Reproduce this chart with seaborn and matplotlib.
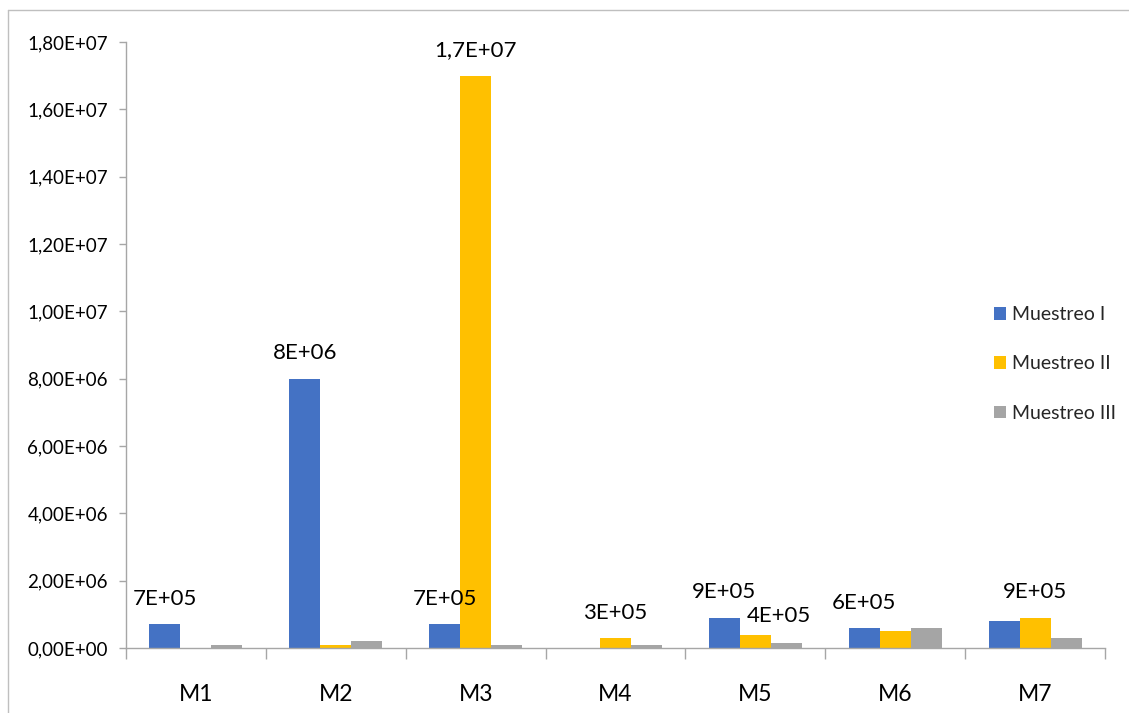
import matplotlib
matplotlib.use("Agg")
import matplotlib.pyplot as plt
from matplotlib.lines import Line2D
from matplotlib.ticker import FuncFormatter, FixedLocator
import seaborn as sns
import pandas as pd
import numpy as np

# Sampling sites and counts per campaign
sites = ["M1", "M2", "M3", "M4", "M5", "M6", "M7"]
series = ["Muestreo I", "Muestreo II", "Muestreo III"]
muestreo_1 = [7e5, 8e6, 7e5, 0, 9e5, 6e5, 8e5]
muestreo_2 = [0, 1e5, 1.7e7, 3e5, 4e5, 5e5, 9e5]
muestreo_3 = [1e5, 2e5, 1e5, 1e5, 1.5e5, 6e5, 3e5]

# Bars that carry a value label: (series, site)
labelled = [
    ("Muestreo I", "M1"), ("Muestreo I", "M2"), ("Muestreo I", "M3"),
    ("Muestreo II", "M3"), ("Muestreo II", "M4"), ("Muestreo I", "M5"),
    ("Muestreo II", "M5"), ("Muestreo I", "M6"), ("Muestreo II", "M7"),
]
# label offset (points) from the bar top, where it differs from the default
label_shift = {("Muestreo II", "M5"): (17, 6)}

colors = ["#4472C4", "#FFC000", "#A5A5A5"]

df = pd.DataFrame({
    "site": sites * 3,
    "serie": np.repeat(series, len(sites)),
    "valor": muestreo_1 + muestreo_2 + muestreo_3,
})

sns.set_theme(style="white")
plt.rcParams["font.family"] = ["Lato", "DejaVu Sans"]

fig = plt.figure(figsize=(11.29, 7.13), dpi=100)
ax = fig.add_axes([126 / 1129, 1 - 648 / 713, (1105 - 126) / 1129, (648 - 42) / 713])

sns.barplot(data=df, x="site", y="valor", hue="serie", order=sites,
            hue_order=series, palette=colors, width=0.665, gap=0,
            saturation=1, ax=ax, legend=False, errorbar=None, linewidth=0)

ax.set_ylim(0, 1.8e7)
ax.set_xlim(-0.5, len(sites) - 0.5)
ax.set_yticks(np.arange(0, 1.8e7 + 1, 2e6))


def sci_comma(v, _pos=None):
    return f"{v:.2E}".replace(".", ",")


ax.yaxis.set_major_formatter(FuncFormatter(sci_comma))
ax.tick_params(axis="y", labelsize=13.5, length=5, width=1, color="#A6A6A6",
               direction="out", pad=8, left=True, labelcolor="#000000")

# category boundaries as ticks, names centred between them
ax.xaxis.set_major_locator(FixedLocator(np.arange(-0.5, len(sites), 1.0)))
ax.xaxis.set_minor_locator(FixedLocator(np.arange(len(sites))))
ax.set_xticklabels([], minor=False)
ax.set_xticklabels(sites, minor=True)
ax.tick_params(axis="x", which="major", length=8, width=1, color="#A6A6A6",
               direction="out", bottom=True)
ax.tick_params(axis="x", which="minor", length=0, labelsize=16.5, pad=26,
               labelcolor="#000000")

for side in ["top", "right"]:
    ax.spines[side].set_visible(False)
for side in ["left", "bottom"]:
    ax.spines[side].set_color("#A6A6A6")
    ax.spines[side].set_linewidth(1)
ax.set_xlabel("")
ax.set_ylabel("")


def short_label(v):
    exp = int(np.floor(np.log10(v)))
    mant = v / 10 ** exp
    txt = f"{v:.0E}" if abs(mant - round(mant)) < 1e-9 else f"{v:.1E}"
    return txt.replace(".", ",")


for (serie, site) in labelled:
    container = ax.containers[series.index(serie)]
    bar = container.patches[sites.index(site)]
    v = bar.get_height()
    ax.annotate(short_label(v), (bar.get_x() + bar.get_width() / 2, v),
                xytext=label_shift.get((serie, site), (0, 11)),
                textcoords="offset points", ha="center", va="bottom",
                fontsize=16, color="#000000")

handles = [plt.Rectangle((0, 0), 1, 1, facecolor=c, edgecolor="none") for c in colors]
fig.legend(handles, series, loc="center left",
           bbox_to_anchor=(994 / 1129, 1 - 364 / 713), frameon=False,
           fontsize=14, handlelength=0.6, handleheight=0.6,
           handletextpad=0.3, labelspacing=1.65, borderpad=0, borderaxespad=0)

# chart-area frame
fig.add_artist(Line2D([8 / 1129, 8 / 1129], [0, 1 - 10 / 713],
                      transform=fig.transFigure, color="#BFBFBF", lw=1))
fig.add_artist(Line2D([8 / 1129, 1], [1 - 10 / 713, 1 - 10 / 713],
                      transform=fig.transFigure, color="#BFBFBF", lw=1))

fig.savefig("out.png", dpi=100, facecolor="white")
